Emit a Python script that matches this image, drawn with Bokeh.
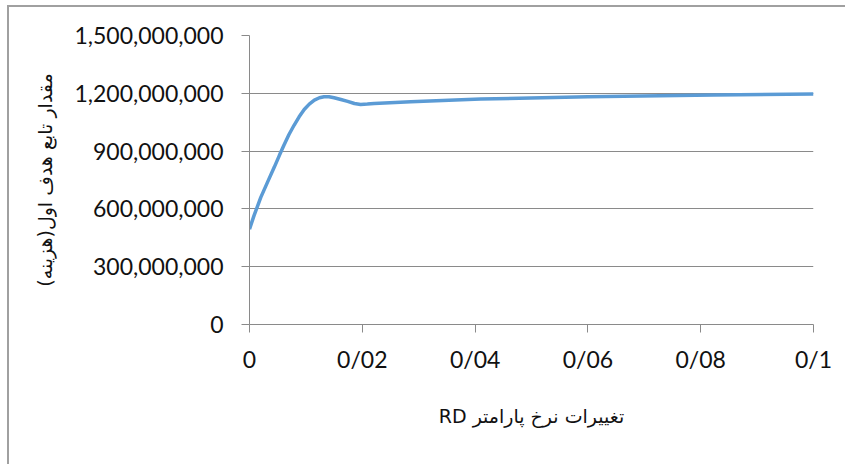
from bokeh.plotting import figure
from bokeh.models import Range1d, FixedTicker, NumeralTickFormatter
from bokeh.embed import file_html
from bokeh.resources import INLINE

# RD rate (x) and first objective function value / cost (y)
rd_rate = [0.0, 0.0008, 0.0020, 0.0032, 0.0044, 0.0053, 0.0061, 0.0070, 0.0079,
           0.0088, 0.0097, 0.0106, 0.0115, 0.0124, 0.0132, 0.0141, 0.0150,
           0.0162, 0.0174, 0.0186, 0.0197, 0.0209, 0.0221, 0.0286, 0.0410,
           0.0600, 0.0823, 0.1000]
cost = [495e6, 565e6, 660e6, 739e6, 817e6, 878e6, 930e6, 986e6, 1034e6,
        1078e6, 1116e6, 1144e6, 1165e6, 1177e6, 1182e6, 1182e6, 1177e6,
        1168e6, 1158e6, 1147e6, 1142e6, 1144e6, 1147e6, 1156e6, 1170e6,
        1182e6, 1191e6, 1196e6]

x_ticks = [0.0, 0.02, 0.04, 0.06, 0.08, 0.1]
x_tick_labels = ["0", "0/02", "0/04", "0/06", "0/08", "0/1"]
y_ticks = [0, 300e6, 600e6, 900e6, 1200e6, 1500e6]

# right-to-left embedding so the Persian titles are laid out as in the original
x_title = "\u202Bتغییرات نرخ پارامتر RD\u202C"
y_title = "\u202Bمقدار تابع هدف اول(هزینه)\u202C"

p = figure(width=838, height=459, output_backend="svg", toolbar_location=None,
           x_range=Range1d(0, 0.1), y_range=Range1d(0, 1.5e9),
           min_border_left=240, min_border_right=34, min_border_top=28,
           min_border_bottom=142)
p.styles = {"margin-left": "7px", "margin-top": "5px",
            "border-left": "2px solid #a0a0a0", "border-top": "2px solid #a0a0a0"}
p.outline_line_color = None
p.background_fill_color = "white"
p.border_fill_color = "white"

p.line(rd_rate, cost, line_color="#5b9bd5", line_width=3.5)

grid_col = "#8a8a8a"
p.xgrid.visible = False
p.ygrid.ticker = FixedTicker(ticks=y_ticks)
p.ygrid.grid_line_color = grid_col
p.ygrid.grid_line_width = 1

tick_font = "Lato"
for ax in (p.xaxis[0], p.yaxis[0]):
    ax.axis_line_color = grid_col
    ax.major_tick_line_color = grid_col
    ax.minor_tick_line_color = None
    ax.major_tick_in = 0
    ax.major_tick_out = 8
    ax.major_label_text_font = tick_font
    ax.major_label_text_font_size = "23px"
    ax.major_label_text_color = "#111111"
    ax.axis_label_text_font = "DejaVu Sans"
    ax.axis_label_text_font_style = "normal"
    ax.axis_label_text_color = "#111111"

p.xaxis.ticker = FixedTicker(ticks=x_ticks)
p.xaxis.major_label_overrides = dict(zip(x_ticks, x_tick_labels))
p.xaxis.major_label_standoff = 12
p.xaxis.axis_label = x_title
p.xaxis.axis_label_text_font_size = "19px"
p.xaxis.axis_label_standoff = 29

p.yaxis.ticker = FixedTicker(ticks=y_ticks)
p.yaxis.formatter = NumeralTickFormatter(format="0,0")
p.yaxis.major_label_standoff = 18
p.yaxis.axis_label = y_title
p.yaxis.axis_label_text_font_size = "19px"
p.yaxis.axis_label_standoff = 15

open("out.html", "w").write(file_html(p, INLINE))
